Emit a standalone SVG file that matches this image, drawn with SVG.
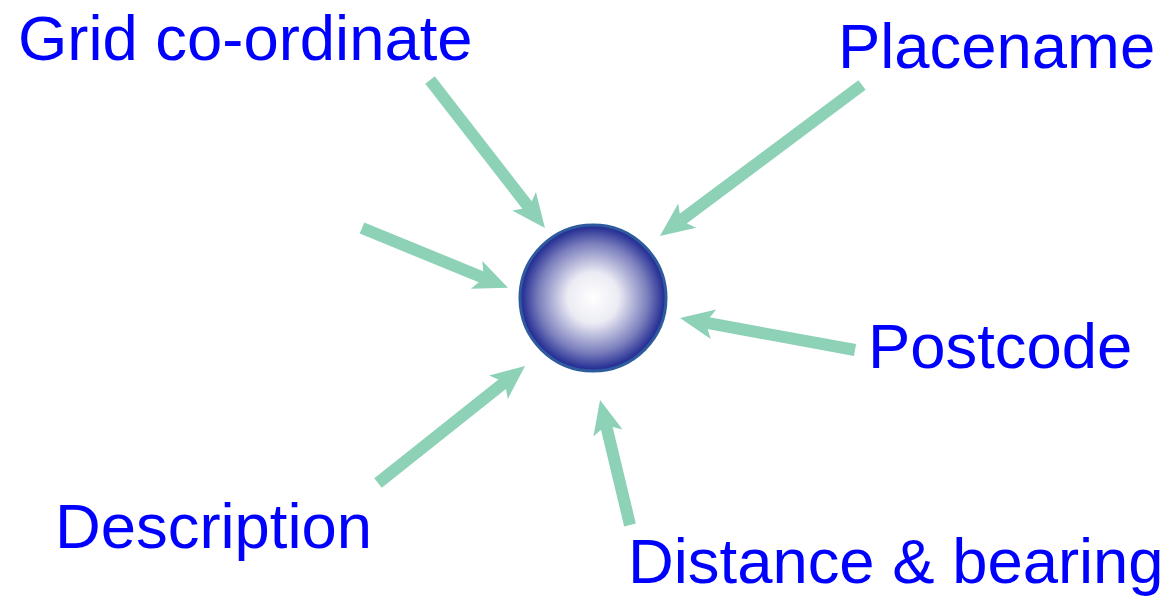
<svg xmlns="http://www.w3.org/2000/svg" width="1169" height="599" viewBox="0 0 1169 599">
<style>
.lbl{font-family:"Liberation Sans",Arial,sans-serif;font-size:63.4px;fill:#0000ff}
.arr{stroke:#8dd1b6;stroke-width:12;fill:none;marker-end:url(#ah)}
</style>
<defs>
<marker id="ah" markerUnits="userSpaceOnUse" viewBox="-10 -16 40 32" refX="0" refY="0" markerWidth="40" markerHeight="32" orient="auto" overflow="visible">
<path d="M-8,-15 L26,0 L-8,15 L0,0 Z" fill="#8dd1b6"/>
</marker>
<radialGradient id="sph" cx="0.5" cy="0.5" r="0.5">
<stop offset="0" stop-color="#ffffff"/>
<stop offset="0.35" stop-color="#ebebf4"/>
<stop offset="0.75" stop-color="#7a7ebc"/>
<stop offset="1" stop-color="#1c2690"/>
</radialGradient>
</defs>
<g id="connectors">
<line class="arr" x1="430" y1="80" x2="529" y2="207.5"/>
<line class="arr" x1="862" y1="85" x2="680.8" y2="220.4"/>
<line class="arr" x1="362" y1="228" x2="484" y2="278"/>
<line class="arr" x1="855" y1="350" x2="705.6" y2="322.7"/>
<line class="arr" x1="378" y1="483" x2="504.7" y2="382.2"/>
<line class="arr" x1="630" y1="525" x2="606.1" y2="425.3"/>
</g>
<g id="sphere">
<circle cx="593" cy="298" r="73" fill="url(#sph)" stroke="#2f5b9e" stroke-width="3"/>
</g>
<g id="grid"><text class="lbl" x="18" y="60">Grid co-ordinate</text></g>
<g id="placename"><text class="lbl" x="838" y="68">Placename</text></g>
<g id="postcode"><text class="lbl" x="868" y="368">Postcode</text></g>
<g id="description"><text class="lbl" x="55" y="548">Description</text></g>
<g id="distance"><text class="lbl" x="628" y="583">Distance &amp; bearing</text></g>
</svg>
